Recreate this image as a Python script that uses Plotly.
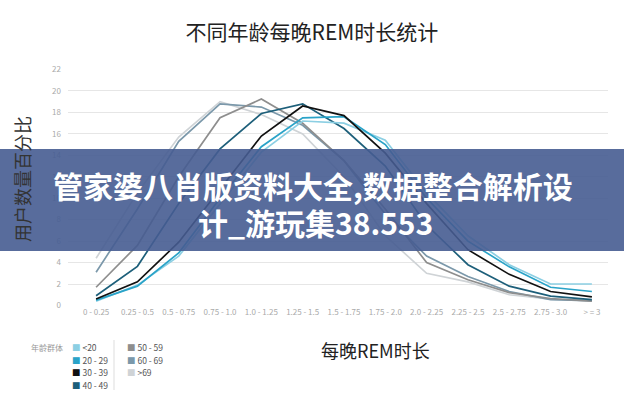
import plotly.graph_objects as go

# REM duration buckets (hours per night)
buckets = ["0 - 0.25", "0.25 - 0.5", "0.5 - 0.75", "0.75 - 1.0", "1.0 - 1.25",
           "1.25 - 1.5", "1.5 - 1.75", "1.75 - 2.0", "2.0 - 2.25", "2.25 - 2.5",
           "2.5 - 2.75", "2.75 - 3.0", "> = 3"]

# share of users (%) per age group
age_lt20 = [0.4, 1.9, 4.6, 9.5, 14.3, 17.2, 17.0, 15.4, 10.5, 6.5, 3.8, 2.0, 2.0]
age_20_29 = [0.5, 1.8, 4.9, 10.0, 14.8, 17.5, 17.6, 15.0, 10.0, 6.0, 3.6, 1.7, 1.3]
age_30_39 = [0.6, 2.2, 5.9, 10.8, 15.8, 18.6, 17.7, 14.2, 9.5, 5.2, 2.9, 1.3, 0.8]
age_40_49 = [0.9, 3.65, 9.5, 14.6, 17.9, 18.8, 16.5, 13.0, 7.5, 3.8, 1.8, 0.87, 0.55]
age_50_59 = [1.7, 5.6, 12.0, 17.5, 19.25, 17.0, 13.5, 9.0, 4.0, 2.4, 1.2, 0.65, 0.4]
age_60_69 = [3.1, 9.0, 15.3, 18.8, 18.5, 16.8, 13.5, 8.5, 4.6, 2.7, 1.3, 0.55, 0.45]
age_gt69 = [4.4, 10.5, 15.7, 19.0, 17.8, 16.0, 12.0, 6.5, 3.0, 2.2, 1.0, 0.6, 0.4]

groups = ["<20", "20 - 29", "30 - 39", "40 - 49", "50 - 59", "60 - 69", ">69"]
series = [age_lt20, age_20_29, age_30_39, age_40_49, age_50_59, age_60_69, age_gt69]
colors = ["#8ccfe3", "#2aa3c8", "#111111", "#1d5f7a", "#8e8e8e", "#7b98aa", "#cfd3d6"]

# back-to-front drawing order
draw_order = [6, 5, 4, 3, 0, 1, 2]

fig = go.Figure()
for i in draw_order:
    fig.add_trace(go.Scatter(
        x=buckets, y=series[i], name=groups[i], mode="lines",
        line=dict(color=colors[i], width=1.7), showlegend=False,
    ))

font = "Noto Sans CJK SC, Noto Sans, sans-serif"


def px(x):
    return (x - 68) / 540


def py(y):
    return (306 - y) / 237


annotations = [
    dict(text="用户数量百分比", x=px(22), y=py(179), xref="paper", yref="paper",
         xanchor="center", yanchor="middle",
         textangle=-90, showarrow=False, font=dict(size=18, color="#333")),
    dict(text="每晚REM时长", x=px(375), y=py(350), xref="paper", yref="paper",
         xanchor="center", yanchor="middle",
         showarrow=False, font=dict(size=18, color="#222")),
    dict(text="年龄群体", x=px(65), y=py(347), xref="paper", yref="paper",
         xanchor="right", yanchor="middle", showarrow=False, font=dict(size=8, color="#999")),
]

# hand-made two-column legend
leg_cols = [(70, [0, 1, 2, 3]), (125, [4, 5, 6])]
rows_y = [347, 359.5, 372, 384.5]
for col_x, idx in leg_cols:
    for r, i in enumerate(idx):
        annotations.append(dict(
            text=f'<span style="color:{colors[i]}">■</span> {groups[i]}'.replace("<20", "&lt;20"),
            x=px(col_x), y=py(rows_y[r]), xref="paper", yref="paper",
            xanchor="left", yanchor="middle", showarrow=False,
            font=dict(size=8.5, color="#555"),
        ))

# overlay banner text
annotations += [
    dict(text="<b>管家婆八肖版资料大全,数据整合解析设</b>", x=px(313), y=py(185),
         xref="paper", yref="paper", xanchor="center", yanchor="middle", showarrow=False,
         font=dict(size=30, color="white", family=font)),
    dict(text="<b>计_游玩集38.553</b>", x=px(315), y=py(222),
         xref="paper", yref="paper", xanchor="center", yanchor="middle", showarrow=False,
         font=dict(size=30, color="white", family=font)),
]

fig.update_layout(
    width=624, height=400,
    margin=dict(l=68, r=16, t=69, b=94),
    paper_bgcolor="white", plot_bgcolor="white",
    font=dict(family=font),
    title=dict(text="不同年龄每晚REM时长统计", x=0.5, xanchor="center",
               y=1 - 33 / 400, yanchor="middle", font=dict(size=21, color="#222")),
    xaxis=dict(range=[-0.68, 12.39], showgrid=False, showline=False, ticks="",
               tickfont=dict(size=8, color="#aaa")),
    yaxis=dict(range=[-0.05, 22.05], dtick=2, showgrid=True, gridcolor="#e6e6e6",
               gridwidth=1, zeroline=False, ticks="", ticklabelstandoff=6,
               tickfont=dict(size=8, color="#aaa")),
    shapes=[
        dict(type="line", xref="paper", yref="paper",
             x0=px(114), x1=px(114), y0=py(340), y1=py(390),
             line=dict(color="#ddd", width=1)),
        dict(type="rect", xref="paper", yref="paper", layer="above",
             x0=-0.2, x1=1.1, y0=py(251), y1=py(149),
             fillcolor="rgba(70,92,145,0.9)", line=dict(width=0)),
    ],
    annotations=annotations,
)

fig.write_html("out.html", config={"displayModeBar": False},
               post_script="document.body.style.margin='0';")
